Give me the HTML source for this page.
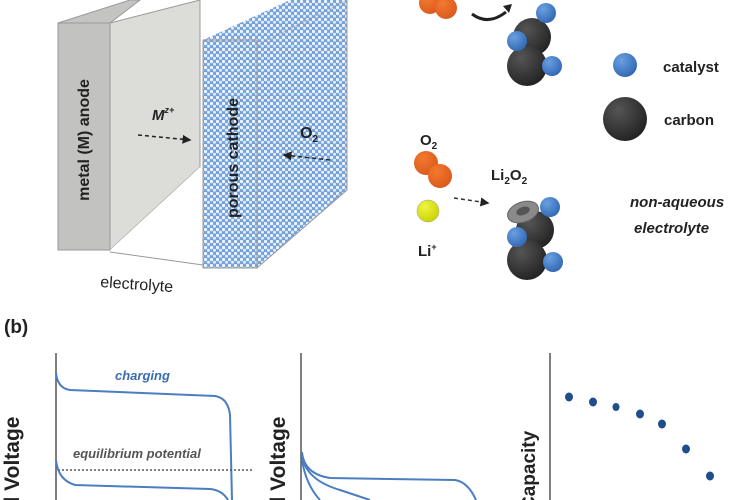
<!DOCTYPE html>
<html><head><meta charset="utf-8"><style>
html,body{margin:0;padding:0;background:#fff;}
svg{display:block;font-family:"Liberation Sans",sans-serif;}
</style></head><body>
<svg width="747" height="500" viewBox="0 0 747 500" xmlns="http://www.w3.org/2000/svg">
<defs>
<pattern id="dots" width="6" height="6" patternUnits="userSpaceOnUse">
<rect width="6" height="6" fill="#72a2dc"/>
<circle cx="1.5" cy="1.5" r="1.7" fill="#eef3fa"/>
<circle cx="4.5" cy="4.3" r="1.5" fill="#e8eff9"/>
</pattern>
<radialGradient id="blk" cx="0.35" cy="0.3" r="0.8"><stop offset="0" stop-color="#555"/><stop offset="1" stop-color="#1e1e1e"/></radialGradient>
<radialGradient id="blu" cx="0.35" cy="0.3" r="0.8"><stop offset="0" stop-color="#6aa0e0"/><stop offset="1" stop-color="#2d63b0"/></radialGradient>
<radialGradient id="org" cx="0.35" cy="0.3" r="0.8"><stop offset="0" stop-color="#f27a30"/><stop offset="1" stop-color="#d9561a"/></radialGradient>
<radialGradient id="yel" cx="0.35" cy="0.3" r="0.8"><stop offset="0" stop-color="#eef540"/><stop offset="1" stop-color="#c8d000"/></radialGradient>
<marker id="ah" markerWidth="6" markerHeight="6" refX="5" refY="3" orient="auto"><path d="M0,0 L6,3 L0,6 z" fill="#222"/></marker>
</defs>

<polygon points="110,23 200,0 200,167 110,250" fill="#dcdcd9" stroke="#999" stroke-width="1"/>
<polygon points="110,250 200,167 203,265 110,255" fill="#fff"/>
<line x1="110" y1="252" x2="203" y2="265" stroke="#999"/>
<polygon points="58,23 130,0 140,0 110,23" fill="#c4c4c2" stroke="#999"/>
<rect x="58" y="23" width="52" height="227" fill="#c2c2c0" stroke="#999"/>
<polygon points="257,45 347,0 347,190 257,268" fill="url(#dots)" stroke="#999"/>
<polygon points="203,40 290,0 347,0 257,45" fill="url(#dots)"/>
<rect x="203" y="40" width="54" height="228" fill="url(#dots)" stroke="#999"/>
<text transform="translate(89,140) rotate(-90)" font-size="16" font-weight="bold" text-anchor="middle" fill="#222">metal (M) anode</text>
<text transform="translate(238,158) rotate(-90)" font-size="16" font-weight="bold" text-anchor="middle" fill="#222">porous cathode</text>
<text x="152" y="120" font-size="15" font-weight="bold" font-style="italic" fill="#222">M<tspan font-size="9" dy="-7">z+</tspan></text>
<line x1="138" y1="135" x2="190" y2="140" stroke="#222" stroke-width="1.5" stroke-dasharray="4,3" marker-end="url(#ah)"/>
<text x="300" y="138" font-size="16" font-weight="bold" fill="#222">O<tspan font-size="10" dy="4">2</tspan></text>
<line x1="330" y1="160" x2="284" y2="155" stroke="#222" stroke-width="1.5" stroke-dasharray="4,3" marker-end="url(#ah)"/>
<text transform="translate(100,287) rotate(4)" font-size="16" fill="#222">electrolyte</text>

<circle cx="430" cy="3" r="11" fill="url(#org)"/>
<circle cx="446" cy="8" r="11" fill="url(#org)"/>
<path d="M472,14 Q488,26 506,12" fill="none" stroke="#222" stroke-width="3"/>
<path d="M503,6 L512,4 L509,13 z" fill="#222"/>
<circle cx="532" cy="37" r="19" fill="url(#blk)"/>
<circle cx="527" cy="66" r="20" fill="url(#blk)"/>
<circle cx="546" cy="13" r="10" fill="url(#blu)"/>
<circle cx="517" cy="41" r="10" fill="url(#blu)"/>
<circle cx="552" cy="66" r="10" fill="url(#blu)"/>
<circle cx="625" cy="65" r="12" fill="url(#blu)"/>
<text x="663" y="72" font-size="15" font-weight="bold" fill="#222">catalyst</text>
<circle cx="625" cy="119" r="22" fill="url(#blk)"/>
<text x="664" y="125" font-size="15" font-weight="bold" fill="#222">carbon</text>

<text x="420" y="145" font-size="15" font-weight="bold" fill="#222">O<tspan font-size="10" dy="4">2</tspan></text>
<circle cx="426" cy="163" r="12" fill="url(#org)"/>
<circle cx="440" cy="176" r="12" fill="url(#org)"/>
<circle cx="428" cy="211" r="11" fill="url(#yel)" stroke="#999" stroke-width="0.5"/>
<text x="418" y="256" font-size="15" font-weight="bold" fill="#222">Li<tspan font-size="9" dy="-6">+</tspan></text>
<line x1="454" y1="198" x2="488" y2="203" stroke="#333" stroke-width="1.5" stroke-dasharray="4,3" marker-end="url(#ah)"/>
<text x="491" y="180" font-size="15" font-weight="bold" fill="#222">Li<tspan font-size="10" dy="4">2</tspan><tspan dy="-4">O</tspan><tspan font-size="10" dy="4">2</tspan></text>
<circle cx="535" cy="230" r="19" fill="url(#blk)"/>
<circle cx="527" cy="260" r="20" fill="url(#blk)"/>
<circle cx="550" cy="207" r="10" fill="url(#blu)"/>
<circle cx="517" cy="237" r="10" fill="url(#blu)"/>
<circle cx="553" cy="262" r="10" fill="url(#blu)"/>
<ellipse cx="523" cy="212" rx="16" ry="10" transform="rotate(-20 523 212)" fill="#8a8a8a" stroke="#666"/>
<ellipse cx="523" cy="211" rx="7" ry="4" transform="rotate(-20 523 211)" fill="#555"/>
<text x="630" y="207" font-size="15" font-weight="bold" font-style="italic" fill="#222">non-aqueous</text>
<text x="634" y="233" font-size="15" font-weight="bold" font-style="italic" fill="#222">electrolyte</text>

<text x="4" y="333" font-size="19" font-weight="bold" fill="#222">(b)</text>
<line x1="56" y1="353" x2="56" y2="500" stroke="#555" stroke-width="1.5"/>
<line x1="301" y1="353" x2="301" y2="500" stroke="#555" stroke-width="1.5"/>
<line x1="550" y1="353" x2="550" y2="500" stroke="#555" stroke-width="1.5"/>
<text transform="translate(19,520) rotate(-90)" font-size="21" font-weight="bold" fill="#222">ell Voltage</text>
<text transform="translate(285,520) rotate(-90)" font-size="21" font-weight="bold" fill="#222">ell Voltage</text>
<text transform="translate(535,510) rotate(-90)" font-size="19" font-weight="bold" fill="#222">Capacity</text>
<text x="115" y="380" font-size="13" font-weight="bold" font-style="italic" fill="#3a6db0">charging</text>
<path d="M56,372 Q57,388 70,390 L215,396 Q228,398 230,415 L232,500" fill="none" stroke="#4a7ec0" stroke-width="2"/>
<text x="73" y="458" font-size="13" font-weight="bold" font-style="italic" fill="#555">equilibrium potential</text>
<line x1="58" y1="470" x2="252" y2="470" stroke="#555" stroke-width="1.5" stroke-dasharray="2,2"/>
<path d="M56,460 Q58,480 75,485 L210,489 Q222,490 228,500" fill="none" stroke="#4a7ec0" stroke-width="2"/>
<path d="M302,452 Q304,474 330,478 L455,480 Q468,482 476,500" fill="none" stroke="#4a7ec0" stroke-width="2"/>
<path d="M302,456 Q306,480 340,490 L370,500" fill="none" stroke="#4a7ec0" stroke-width="2"/>
<path d="M302,460 Q306,485 320,500" fill="none" stroke="#4a7ec0" stroke-width="2"/>
<g fill="#1f4e8c">
<ellipse cx="569" cy="397" rx="4" ry="4.5"/>
<ellipse cx="593" cy="402" rx="4" ry="4.5"/>
<ellipse cx="616" cy="407" rx="3.5" ry="4"/>
<ellipse cx="640" cy="414" rx="4" ry="4.5"/>
<ellipse cx="662" cy="424" rx="4" ry="4.5"/>
<ellipse cx="686" cy="449" rx="4" ry="4.5"/>
<ellipse cx="710" cy="476" rx="4" ry="4.5"/>
</g>
</svg>
</body></html>
